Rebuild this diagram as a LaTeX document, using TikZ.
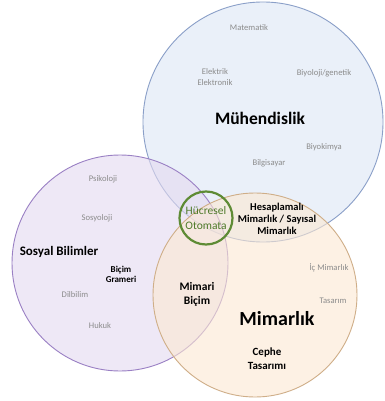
\documentclass[tikz,border=0pt]{standalone}
\usepackage{fontspec}
\setmainfont{Carlito}
\definecolor{bluefill}{HTML}{DCE6F5}
\definecolor{bluedraw}{HTML}{8A9FC8}
\definecolor{purplefill}{HTML}{E4DAF0}
\definecolor{purpledraw}{HTML}{9A80C4}
\definecolor{orangefill}{HTML}{FCE8D2}
\definecolor{orangedraw}{HTML}{CFAE88}
\definecolor{greendraw}{HTML}{5E8B35}
\definecolor{greentext}{HTML}{4E7A2A}
\definecolor{graytext}{HTML}{8C8C8C}
\begin{document}
\begin{tikzpicture}[x=1pt,y=-1pt,
  setfill/.style={fill opacity=0.6, line width=0.9pt},
  minor/.style={text=graytext, font=\fontsize{8.6}{11}\selectfont, align=center},
  medium/.style={font=\bfseries\fontsize{10.5}{12}\selectfont, align=center},
  big/.style={font=\bfseries\fontsize{17.5}{20}\selectfont}]
\useasboundingbox (0,0) rectangle (384,401);
\fill[white] (0,0) rectangle (384,401);
\node[circle, minimum size=240pt, fill=bluefill, draw=bluedraw, setfill] (eng) at (263,122) {};
\node[circle, minimum size=216pt, fill=purplefill, draw=purpledraw, setfill] (soc) at (120,263) {};
\node[circle, minimum size=204pt, fill=orangefill, draw=orangedraw, setfill] (arch) at (255,295) {};
\node[circle, minimum size=53pt, draw=greendraw, line width=2.2pt] (ca) at (206,218) {};
% Engineering
\node[minor] (mat) at (249,28) {Matematik};
\node[minor] (ele) at (215,77) {Elektrik\\Elektronik};
\node[minor] (bio) at (324,73) {Biyoloji/genetik};
\node[big] (muh) at (260,118) {Mühendislik};
\node[minor] (biyk) at (324,147) {Biyokimya};
\node[minor] (bilg) at (269,163) {Bilgisayar};
% Social
\node[minor] (psi) at (103,179) {Psikoloji};
\node[minor] (sos) at (97,218) {Sosyoloji};
\node[font=\bfseries\fontsize{13}{15}\selectfont] (sb) at (59,252) {Sosyal Bilimler};
\node[medium, font=\bfseries\fontsize{9}{10}\selectfont] (bg) at (121,274) {Biçim\\Grameri};
\node[minor] (dil) at (75,295) {Dilbilim};
\node[minor] (huk) at (100,326) {Hukuk};
% Center
\node[align=center, text=greentext, font=\fontsize{11.5}{14.5}\selectfont] (hot) at (206,218) {Hücresel\\Otomata};
\node[medium] (hes) at (277,219) {Hesaplamalı\\Mimarlık / Sayısal\\Mimarlık};
% Architecture
\node[minor] (ic) at (329,268) {İç Mimarlık};
\node[minor] (tas) at (333,301) {Tasarım};
\node[medium, font=\bfseries\fontsize{11.5}{14}\selectfont] (mb) at (197,294) {Mimari\\Biçim};
\node[font=\bfseries\fontsize{20}{22}\selectfont] (mim) at (277,319) {Mimarlık};
\node[medium, font=\bfseries\fontsize{11}{14}\selectfont] (ct) at (267,359) {Cephe\\Tasarımı};
\end{tikzpicture}
\end{document}
